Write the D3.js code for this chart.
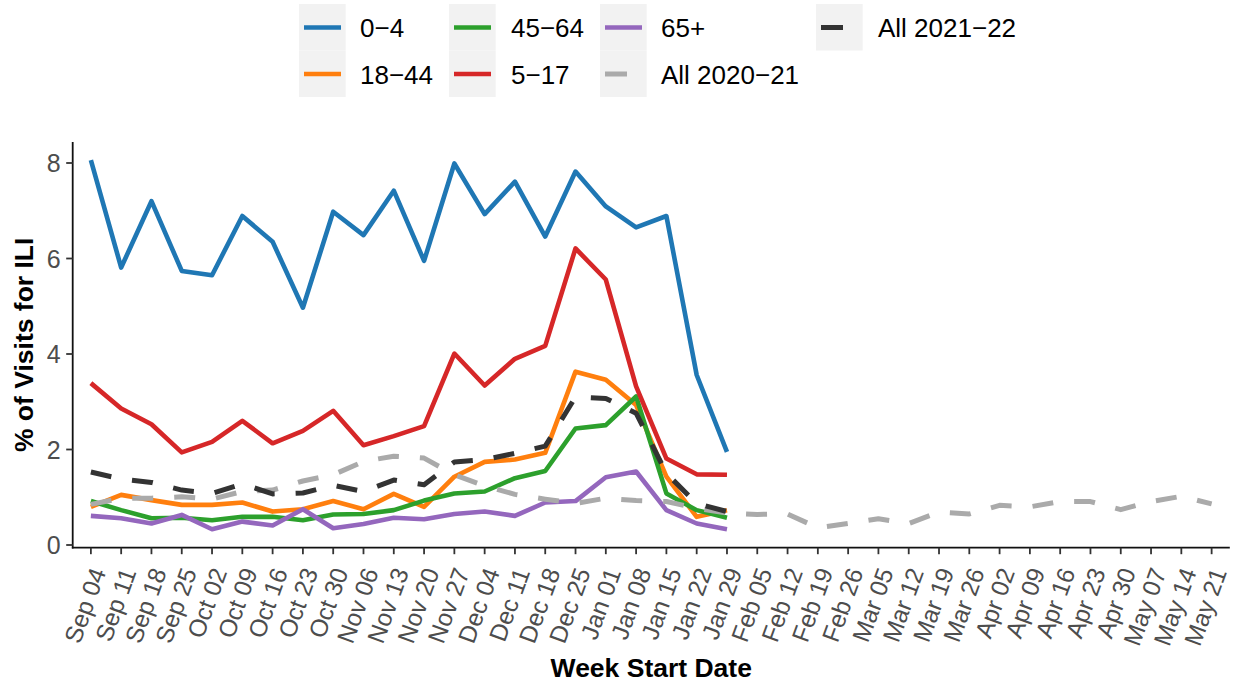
<!DOCTYPE html>
<html>
<head>
<meta charset="utf-8">
<script src="https://cdn.jsdelivr.net/npm/d3@7"></script>
<style>
  html, body { margin: 0; padding: 0; background: #fff; }
  text { font-family: "Liberation Sans", Arial, Helvetica, sans-serif; }
</style>
</head>
<body>
<svg id="chart" width="1235" height="685"></svg>
<script>
const weeks = ["Sep 04","Sep 11","Sep 18","Sep 25","Oct 02","Oct 09","Oct 16","Oct 23","Oct 30","Nov 06","Nov 13","Nov 20","Nov 27","Dec 04","Dec 11","Dec 18","Dec 25","Jan 01","Jan 08","Jan 15","Jan 22","Jan 29","Feb 05","Feb 12","Feb 19","Feb 26","Mar 05","Mar 12","Mar 19","Mar 26","Apr 02","Apr 09","Apr 16","Apr 23","Apr 30","May 07","May 14","May 21"];

const age0_4   = [8.06,5.81,7.20,5.74,5.65,6.89,6.35,4.97,6.98,6.49,7.42,5.95,7.99,6.93,7.61,6.46,7.82,7.09,6.65,6.89,3.56,1.95];
const age18_44 = [0.80,1.05,0.94,0.84,0.84,0.89,0.70,0.75,0.92,0.75,1.07,0.80,1.43,1.74,1.79,1.93,3.63,3.46,2.93,1.43,0.59,0.73];
const age45_64 = [0.92,0.73,0.56,0.57,0.52,0.59,0.59,0.52,0.64,0.65,0.73,0.93,1.08,1.12,1.40,1.55,2.44,2.51,3.11,1.08,0.73,0.57];
const age5_17  = [3.39,2.86,2.53,1.94,2.16,2.60,2.13,2.39,2.81,2.09,2.28,2.49,4.01,3.34,3.90,4.17,6.21,5.56,3.32,1.81,1.48,1.47];
const age65    = [0.61,0.56,0.45,0.63,0.33,0.49,0.41,0.75,0.35,0.44,0.57,0.54,0.65,0.70,0.61,0.89,0.92,1.42,1.54,0.73,0.45,0.33];
const all2020_21 = [0.85,0.98,0.98,1.01,0.96,1.12,1.15,1.34,1.47,1.75,1.86,1.82,1.47,1.24,1.06,0.96,0.87,0.98,0.93,0.91,0.77,0.67,0.64,0.65,0.36,0.45,0.55,0.45,0.69,0.65,0.83,0.80,0.91,0.91,0.74,0.91,1.02,0.86];
const all2021_22 = [1.53,1.38,1.31,1.15,1.08,1.28,1.07,1.09,1.25,1.12,1.36,1.26,1.74,1.79,1.92,2.07,3.10,3.07,2.76,1.50,0.87,0.70];

const seriesNames = ["0\u22124","18\u221244","45\u221264","5\u221217","65+","All 2020\u221221","All 2021\u221222"];
const seriesColors = ["#1f77b4","#ff7f0e","#2ca02c","#d62728","#9467bd","#aaaaaa","#333333"];
const seriesDashed = [false,false,false,false,false,true,true];
const seriesValues = [age0_4, age18_44, age45_64, age5_17, age65, all2020_21, all2021_22];
const yTicks = [0,2,4,6,8];

const svg = d3.select("#chart");
const panel = {left: 72.7, right: 1229.8, top: 142, bottom: 547.7};

const x = d3.scalePoint().domain(weeks).range([panel.left, panel.right]).padding(0.6);
const y = d3.scaleLinear().domain([0, 8]).range([545, 163]);

const series = seriesNames.map((name, i) => ({
  name, color: seriesColors[i], dashed: seriesDashed[i],
  points: seriesValues[i].map((v, j) => ({week: weeks[j], value: v}))
}));

const line = d3.line().x(d => x(d.week)).y(d => y(d.value));

const gLines = svg.append("g");
series.forEach(s => {
  gLines.append("path")
    .datum(s.points)
    .attr("d", line)
    .attr("fill", "none")
    .attr("stroke", s.color)
    .attr("stroke-width", s.dashed ? 5 : 4.6)
    .attr("stroke-linejoin", "round")
    .attr("stroke-linecap", "butt")
    .attr("stroke-dasharray", s.dashed ? "21,21" : null);
});

// axes
const axisColor = "#111";
svg.append("line").attr("x1", panel.left).attr("x2", panel.left)
  .attr("y1", panel.top).attr("y2", panel.bottom + 0.8)
  .attr("stroke", axisColor).attr("stroke-width", 1.8);
svg.append("line").attr("x1", panel.left - 0.8).attr("x2", panel.right)
  .attr("y1", panel.bottom).attr("y2", panel.bottom)
  .attr("stroke", axisColor).attr("stroke-width", 1.8);

const gy = svg.append("g");
yTicks.forEach(t => {
  gy.append("line").attr("x1", panel.left - 6.5).attr("x2", panel.left)
    .attr("y1", y(t)).attr("y2", y(t)).attr("stroke", "#333").attr("stroke-width", 1.8);
  gy.append("text").attr("x", panel.left - 12).attr("y", y(t))
    .attr("dy", "0.36em").attr("text-anchor", "end")
    .attr("font-size", 25).attr("fill", "#4d4d4d").text(t);
});

const gx = svg.append("g");
weeks.forEach(w => {
  const px = x(w);
  gx.append("line").attr("x1", px).attr("x2", px)
    .attr("y1", panel.bottom).attr("y2", panel.bottom + 6.5)
    .attr("stroke", "#333").attr("stroke-width", 1.8);
  gx.append("text")
    .attr("transform", `translate(${px + 15.5},${572}) rotate(-70)`)
    .attr("text-anchor", "end")
    .attr("font-size", 24.5).attr("fill", "#4d4d4d").text(w);
});

// axis titles
svg.append("text").attr("x", (panel.left + panel.right) / 2).attr("y", 677)
  .attr("text-anchor", "middle").attr("font-size", 26.5).attr("font-weight", "bold")
  .attr("fill", "#000").text("Week Start Date");
svg.append("text")
  .attr("transform", `translate(33,${(panel.top + panel.bottom) / 2}) rotate(-90)`)
  .attr("text-anchor", "middle").attr("font-size", 26.5).attr("font-weight", "bold")
  .attr("fill", "#000").text("% of Visits for ILI");

// legend (column-major, 2 rows)
const legCols = [299, 449, 600, 816];
const legTextX = [360, 511, 661, 878];
const rowY = [4, 50.5];
const keyW = 46.7, keyH = 46.5;
const gl = svg.append("g");
series.forEach((s, i) => {
  const c = Math.floor(i / 2), r = i % 2;
  const kx = legCols[c], ky = rowY[r];
  gl.append("rect").attr("x", kx).attr("y", ky).attr("width", keyW).attr("height", keyH)
    .attr("fill", "#f2f2f2");
  gl.append("line").attr("x1", kx + 5).attr("x2", kx + 42)
    .attr("y1", ky + 23.5).attr("y2", ky + 23.5)
    .attr("stroke", s.color).attr("stroke-width", s.dashed ? 5 : 4.6)
    .attr("stroke-dasharray", s.dashed ? "22,22" : null);
  gl.append("text").attr("x", legTextX[c]).attr("y", ky + 33)
    .attr("font-size", 26).attr("fill", "#000").text(s.name);
});
</script>
</body>
</html>
